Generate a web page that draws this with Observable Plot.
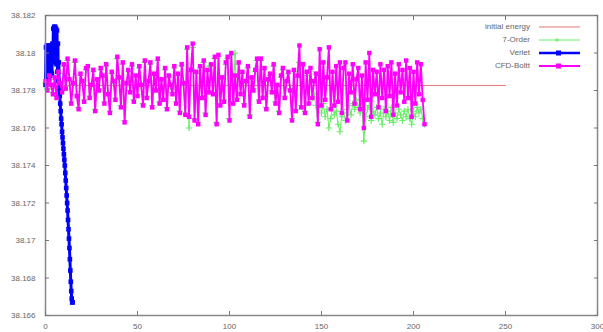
<!DOCTYPE html>
<html><head><meta charset="utf-8">
<script src="https://cdn.jsdelivr.net/npm/d3@7"></script>
<script src="https://cdn.jsdelivr.net/npm/@observablehq/plot@0.6"></script>
<style>
html,body{margin:0;padding:0;background:#fff;}
#wrap{position:relative;width:603px;height:332px;overflow:hidden;}
#legend{position:absolute;left:0;top:0;}
</style>
</head><body><div id="wrap"></div>
<script>
const xTicks = [0, 50, 100, 150, 200, 250, 300];
const yTicks = [38.166, 38.168, 38.17, 38.172, 38.174, 38.176, 38.178, 38.18, 38.182];
const seriesNames = ["initial energy", "7-Order", "Verlet", "CFD-Boltt"];
const seriesColors = ["#e07878", "#66ee66", "#0000ff", "#ff00ff"];

const initialX = [0, 250];
const initialEnergy = 38.17827;

// CFD-Boltt and 7-Order, one value per step 0..206
const cfdBoltt = [
38.1785,38.1780,38.1788,38.1783,38.1778,38.1787,38.1776,38.1790,38.1784,38.1779,
38.1794,38.1781,38.1797,38.1786,38.1773,38.1784,38.1796,38.1777,38.1770,38.1789,
38.1785,38.1774,38.1792,38.1793,38.1776,38.1783,38.1791,38.1769,38.1786,38.1780,
38.1792,38.1788,38.1773,38.1794,38.1778,38.1768,38.1790,38.1785,38.1775,38.1798,
38.1787,38.1771,38.1795,38.1763,38.1784,38.1791,38.1779,38.1794,38.1774,38.1788,
38.1777,38.1793,38.1783,38.1772,38.1796,38.1776,38.1785,38.1795,38.1771,38.1789,
38.1780,38.1797,38.1773,38.1786,38.1775,38.1792,38.1770,38.1788,38.1783,38.1778,
38.1793,38.1773,38.1789,38.1768,38.1794,38.1784,38.1767,38.1803,38.1766,38.1791,
38.1805,38.1764,38.1790,38.1762,38.1793,38.1776,38.1796,38.1767,38.1791,38.1779,
38.1794,38.1778,38.1798,38.1762,38.1799,38.1772,38.1787,38.1774,38.1795,38.1798,
38.1764,38.1800,38.1773,38.1788,38.1775,38.1795,38.1778,38.1790,38.1772,38.1785,
38.1793,38.1766,38.1787,38.1780,38.1791,38.1797,38.1774,38.1797,38.1776,38.1792,
38.1770,38.1786,38.1789,38.1779,38.1794,38.1773,38.1783,38.1768,38.1788,38.1792,
38.1776,38.1785,38.1790,38.1780,38.1764,38.1791,38.1769,38.1788,38.1804,38.1771,
38.1794,38.1768,38.1790,38.1773,38.1792,38.1776,38.1785,38.1789,38.1762,38.1802,
38.1772,38.1795,38.1775,38.1787,38.1803,38.1770,38.1790,38.1772,38.1793,38.1774,
38.1795,38.1768,38.1792,38.1795,38.1764,38.1789,38.1779,38.1794,38.1773,38.1786,
38.1792,38.1770,38.1788,38.1760,38.1795,38.1775,38.1800,38.1766,38.1791,38.1778,
38.1790,38.1771,38.1794,38.1776,38.1791,38.1769,38.1793,38.1777,38.1795,38.1767,
38.1789,38.1772,38.1794,38.1779,38.1791,38.1774,38.1796,38.1776,38.1792,38.1766,
38.1790,38.1773,38.1795,38.1778,38.1794,38.1775,38.1762];

const order7 = [
38.1784,38.1781,38.1787,38.1782,38.1779,38.1786,38.1777,38.1789,38.1783,38.1780,
38.1793,38.1782,38.1796,38.1785,38.1774,38.1783,38.1795,38.1778,38.1771,38.1788,
38.1784,38.1775,38.1791,38.1792,38.1777,38.1782,38.1790,38.1770,38.1785,38.1781,
38.1791,38.1787,38.1774,38.1793,38.1779,38.1769,38.1789,38.1784,38.1776,38.1797,
38.1786,38.1772,38.1794,38.1764,38.1783,38.1790,38.1780,38.1793,38.1775,38.1787,
38.1778,38.1792,38.1782,38.1773,38.1795,38.1777,38.1784,38.1794,38.1772,38.1788,
38.1781,38.1796,38.1774,38.1785,38.1776,38.1791,38.1771,38.1787,38.1782,38.1779,
38.1792,38.1774,38.1788,38.1769,38.1793,38.1783,38.1768,38.1802,38.1760,38.1790,
38.1803,38.1765,38.1789,38.1763,38.1792,38.1777,38.1795,38.1768,38.1790,38.1793,
38.1793,38.1779,38.1797,38.1763,38.1798,38.1773,38.1786,38.1775,38.1794,38.1797,
38.1765,38.1799,38.1774,38.1800,38.1776,38.1794,38.1779,38.1789,38.1773,38.1784,
38.1792,38.1767,38.1786,38.1781,38.1790,38.1796,38.1775,38.1796,38.1777,38.1791,
38.1771,38.1785,38.1788,38.1780,38.1793,38.1774,38.1782,38.1769,38.1787,38.1791,
38.1777,38.1784,38.1789,38.1781,38.1765,38.1790,38.1770,38.1787,38.1795,38.1772,
38.1792,38.1769,38.1788,38.1774,38.1790,38.1776,38.1778,38.1772,38.1763,38.1775,
38.1768,38.1773,38.1766,38.1770,38.1760,38.1765,38.1771,38.1767,38.1769,38.1762,
38.1758,38.1766,38.1770,38.1764,38.1768,38.1772,38.1767,38.1773,38.1770,38.1775,
38.1771,38.1768,38.1774,38.1753,38.1766,38.1770,38.1772,38.1764,38.1769,38.1767,
38.1771,38.1765,38.1768,38.1762,38.1770,38.1766,38.1769,38.1764,38.1771,38.1763,
38.1768,38.1765,38.1770,38.1767,38.1764,38.1769,38.1766,38.1770,38.1765,38.1762,
38.1769,38.1766,38.1771,38.1768,38.1770,38.1765,38.1762];

const verletX = [0,0.25,0.5,0.75,1,1.25,1.5,1.75,2,2.25,2.5,2.75,3,3.25,3.5,3.75,4,4.25,4.5,4.75,5,5.25,5.5,5.75,6,6.25,6.5,6.75,7,7.25,7.5,7.75,8,8.25,8.5,8.75,9,9.25,9.5,9.75,10,10.25,10.5,10.75,11,11.25,11.5,11.75,12,12.25,12.5,12.75,13,13.25,13.5,13.75,14,14.25,14.5,14.75];
const verlet = [38.1783,38.1803,38.1788,38.1804,38.1787,38.1803,38.1789,38.1804,38.1786,38.1803,38.1788,38.1804,38.1790,38.1803,38.1789,38.1805,38.1795,38.1813,38.1798,38.1814,38.1796,38.1814,38.1797,38.1813,38.1794,38.1812,38.1790,38.1805,38.1785,38.1795,38.1780,38.1777,38.1773,38.1769,38.1765,38.1762,38.1758,38.1755,38.1752,38.1749,38.1746,38.1743,38.1740,38.1736,38.1732,38.1728,38.1724,38.1720,38.1716,38.1711,38.1706,38.1701,38.1696,38.1690,38.1684,38.1678,38.1673,38.1669,38.1667,38.1667];

const initData = initialX.map(x => ({x, y: initialEnergy}));
const cfdData = cfdBoltt.map((y, i) => ({x: i, y}));
const o7Data = order7.map((y, i) => ({x: i, y}));
const verletData = verletX.map((x, i) => ({x, y: verlet[i]}));

const axisStyle = {fontSize: 8, fill: "#666"};
const fmt = d => String(+d.toFixed(3));

const chart = Plot.plot({
  width: 603, height: 332,
  marginLeft: 45, marginRight: 6, marginTop: 15, marginBottom: 17,
  style: {fontFamily: "Liberation Sans, Arial, sans-serif", fontSize: "8px", color: "#666", background: "#fff", overflow: "hidden"},
  x: {domain: [0, 300]},
  y: {domain: [38.166, 38.182]},
  marks: [
    Plot.line(initData, {x: "x", y: "y", stroke: seriesColors[0], strokeWidth: 1}),
    Plot.line(o7Data, {x: "x", y: "y", stroke: seriesColors[1], strokeWidth: 1}),
    Plot.dot(o7Data, {x: "x", y: "y", symbol: "plus", r: 2.2, stroke: seriesColors[1], strokeWidth: 1.2}),
    Plot.line(verletData, {x: "x", y: "y", stroke: seriesColors[2], strokeWidth: 3}),
    Plot.dot(verletData, {x: "x", y: "y", symbol: "square", r: 2.6, fill: seriesColors[2]}),
    Plot.line(cfdData, {x: "x", y: "y", stroke: seriesColors[3], strokeWidth: 1.8}),
    Plot.dot(cfdData, {x: "x", y: "y", symbol: "square", r: 2.5, fill: seriesColors[3]}),
    Plot.frame({stroke: "#888", strokeWidth: 1.5}),
    Plot.axisX({ticks: xTicks, tickSize: 0, tickPadding: 8, label: null, tickFormat: d => String(d), ...axisStyle}),
    Plot.axisX({ticks: xTicks, anchor: "bottom", tickSize: -4, tickFormat: () => "", label: null, stroke: "#777"}),
    Plot.axisX({ticks: xTicks, anchor: "top", tickSize: -4, tickFormat: () => "", label: null, stroke: "#777"}),
    Plot.axisY({ticks: yTicks, tickSize: 0, tickPadding: 10, label: null, tickFormat: fmt, ...axisStyle}),
    Plot.axisY({ticks: yTicks, anchor: "left", tickSize: -4, tickFormat: () => "", label: null, stroke: "#777"}),
    Plot.axisY({ticks: yTicks, anchor: "right", tickSize: -4, tickFormat: () => "", label: null, stroke: "#777"})
  ]
});
const wrap = document.getElementById("wrap");
wrap.appendChild(chart);

// legend overlay inside the plot (top right)
const ns = "http://www.w3.org/2000/svg";
const leg = document.createElementNS(ns, "svg");
leg.setAttribute("id", "legend");
leg.setAttribute("width", 603);
leg.setAttribute("height", 80);
const rowY = [27, 40, 53, 66];
seriesNames.forEach((name, i) => {
  const t = document.createElementNS(ns, "text");
  t.setAttribute("x", 530); t.setAttribute("y", rowY[i]);
  t.setAttribute("text-anchor", "end"); t.setAttribute("dominant-baseline", "middle");
  t.setAttribute("font-family", "Liberation Sans, Arial, sans-serif");
  t.setAttribute("font-size", "8"); t.setAttribute("fill", "#666");
  t.textContent = name; leg.appendChild(t);
  const l = document.createElementNS(ns, "line");
  l.setAttribute("x1", 539); l.setAttribute("x2", 580);
  l.setAttribute("y1", rowY[i]); l.setAttribute("y2", rowY[i]);
  l.setAttribute("stroke", seriesColors[i]);
  l.setAttribute("stroke-width", [1, 1, 2.5, 2][i]);
  leg.appendChild(l);
  if (i === 1) {
    const p = document.createElementNS(ns, "path");
    p.setAttribute("d", `M557,${rowY[i]-2}v4M555,${rowY[i]}h4`);
    p.setAttribute("stroke", seriesColors[i]); leg.appendChild(p);
  } else if (i > 1) {
    const r = document.createElementNS(ns, "rect");
    r.setAttribute("x", 556); r.setAttribute("y", rowY[i]-2.5);
    r.setAttribute("width", 5); r.setAttribute("height", 5);
    r.setAttribute("fill", seriesColors[i]); leg.appendChild(r);
  }
});
wrap.appendChild(leg);
</script>
</body></html>
